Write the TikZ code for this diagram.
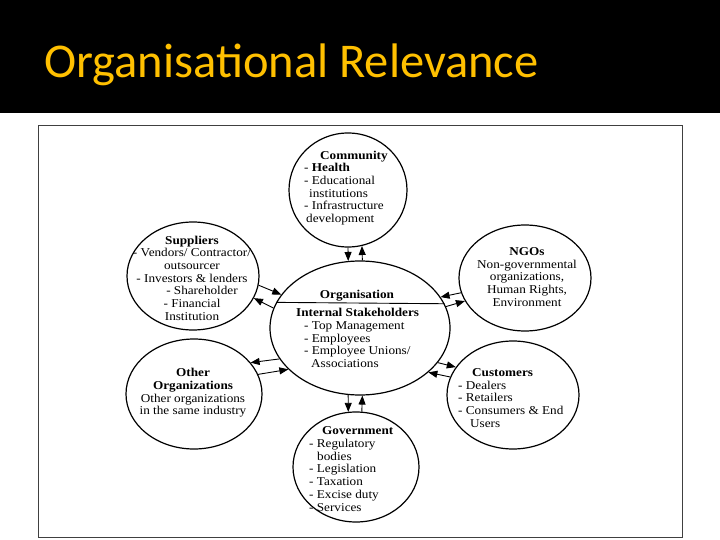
\documentclass[tikz,border=0pt]{standalone}
\usepackage{fontspec}
\setmainfont{Liberation Serif}[FakeStretch=1.1]
\newfontfamily\titlefont{Carlito}
\usetikzlibrary{arrows.meta, positioning, shapes.geometric}
\definecolor{titlegold}{HTML}{FFC000}

\begin{document}
\begin{tikzpicture}[
    x=1pt,
    y=-1pt,
    font=\fontsize{12}{12.7}\selectfont,
    party/.style={
        ellipse,
        draw,
        line width=1.2pt,
        inner sep=0pt
    },
    lefttext/.style={
        align=left,
        inner sep=0pt,
        anchor=west
    },
    midtext/.style={
        align=center,
        inner sep=0pt
    },
    flow/.style={
        -{Triangle[length=9pt,width=7pt]},
        line width=0.9pt
    }
]
\useasboundingbox (0,0) rectangle (720,540);

% Titelbjælke
\fill[black] (0,0) rectangle (720,113);
\node[
    anchor=base west,
    inner sep=0pt,
    text=titlegold,
    font=\titlefont\fontsize{48.5}{48.5}\selectfont
] (title) at (44,78) {Organisational Relevance};

% Rammen om skannet
\draw[black!75, line width=0.9pt] (38,125) rectangle (682,537);

% Ellipserne
\node[party, minimum width=118pt, minimum height=114pt] (com) at (348,190) {};
\node[party, minimum width=132pt, minimum height=108pt] (sup) at (193,276) {};
\node[party, minimum width=132pt, minimum height=106pt] (ngo) at (525,278) {};
\node[party, minimum width=180pt, minimum height=134pt] (org) at (360,328) {};
\node[party, minimum width=136pt, minimum height=110pt] (oth) at (194,394) {};
\node[party, minimum width=132pt, minimum height=108pt] (cus) at (513,395) {};
\node[party, minimum width=126pt, minimum height=110pt] (gov) at (356,467) {};

% Tekster
\node[lefttext] (comtext) at (304,188) {%
\hspace*{16pt}\textbf{Community}\\
- \textbf{Health}\\
- Educational\\
\hspace*{5pt}institutions\\
- Infrastructure\\
\hspace*{2pt}development};

\node[midtext] (suptext) at (192,278) {%
\textbf{Suppliers}\\
- Vendors/ Contractor/\\
outsourcer\\
- Investors \& lenders\\
\hspace*{20pt}- Shareholder\\
- Financial\\
Institution};

\node[midtext] (ngotext) at (527,277) {%
\textbf{NGOs}\\
Non-governmental\\
organizations,\\
Human Rights,\\
Environment};

\node[midtext] (orghead) at (357,296) {\textbf{Organisation}};

\node[lefttext] (orgtext) at (296,338) {%
\textbf{Internal Stakeholders}\\
\hspace*{8pt}- Top Management\\
\hspace*{8pt}- Employees\\
\hspace*{8pt}- Employee Unions/\\
\hspace*{15pt}Associations};

\node[midtext] (othtext) at (193,393) {%
\textbf{Other}\\
\textbf{Organizations}\\
Other organizations\\
in the same industry};

\node[lefttext] (custext) at (458,398) {%
\hspace*{14pt}\textbf{Customers}\\
- Dealers\\
- Retailers\\
- Consumers \& End\\
\hspace*{12pt}Users};

\node[lefttext] (govtext) at (309,469) {%
\hspace*{13pt}\textbf{Government}\\
- Regulatory\\
\hspace*{8pt}bodies\\
- Legislation\\
- Taxation\\
- Excise duty\\
- Services};

% Skillelinje i organisationen
\draw[line width=0.9pt] (org.163.3) -- (org.16.7);

% Pilepar mellem organisationen og omverdenen
\draw[flow] (com.270) -- (org.100);
\draw[flow] (org.88) -- (com.284);

\draw[flow] (org.260) -- (gov.98);
\draw[flow] (gov.84) -- (org.272);

\draw[flow] (sup.352) -- (org.157);
\draw[flow] (org.167) -- (sup.340);

\draw[flow] (ngo.193) -- (org.21);
\draw[flow] (org.14) -- (ngo.201);

\draw[flow] (org.201) -- (oth.29);
\draw[flow] (oth.17) -- (org.210);

\draw[flow] (org.336) -- (cus.154);
\draw[flow] (cus.164) -- (org.327);

\end{tikzpicture}
\end{document}
